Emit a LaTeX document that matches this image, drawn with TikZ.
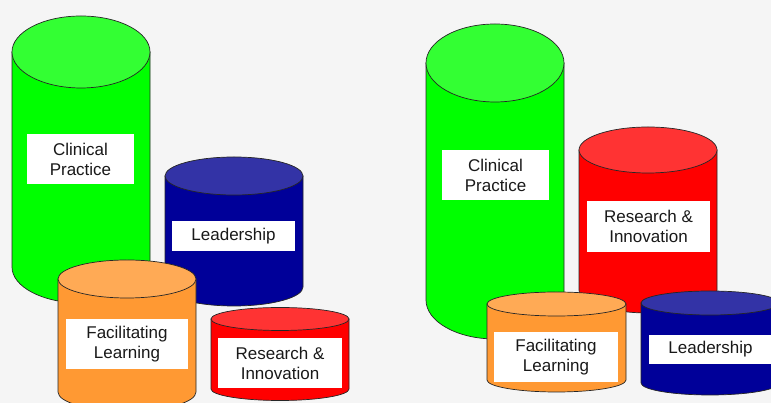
\documentclass[tikz,border=0pt]{standalone}
\usepackage{fontspec}
\setmainfont{Liberation Sans}

\definecolor{bgGray}{HTML}{F5F5F5}
\definecolor{greenBody}{HTML}{00FF00}
\definecolor{greenTop}{HTML}{33FF33}
\definecolor{blueBody}{HTML}{000099}
\definecolor{blueTop}{HTML}{3333A6}
\definecolor{redBody}{HTML}{FF0000}
\definecolor{redTop}{HTML}{FF3333}
\definecolor{orangeBody}{HTML}{FF9933}
\definecolor{orangeTop}{HTML}{FFAA55}

% drum: centre x, top y, bottom y, x radius, y radius, body colour, top colour
\newcommand{\drum}[7]{%
  \filldraw[rim, fill=#6] (#1-#4,#2) -- (#1-#4,#3)
    arc[start angle=180, end angle=360, x radius=#4, y radius=#5] -- (#1+#4,#2) -- cycle;
  \filldraw[rim, fill=#7] (#1,#2) ellipse[x radius=#4, y radius=#5];
}

\begin{document}
\begin{tikzpicture}[x=1pt, y=1pt,
    rim/.style = {draw=black!85, line width=0.7pt},
    lbl/.style = {fill=white, inner sep=0pt, align=center, text=black!90,
                  font=\fontsize{17}{20}\selectfont}]
  \clip (0,0) rectangle (771,403);
  \fill[bgGray] (0,0) rectangle (771,403);

  % left group
  \drum{81}{351}{136}{69}{36}{greenBody}{greenTop}
  \node[lbl, minimum width=107, minimum height=50] (cpL) at (80.5,244) {Clinical\\Practice};
  \drum{234}{227}{116}{69}{19}{blueBody}{blueTop}
  \node[lbl, minimum width=123, minimum height=30] (ldL) at (233.5,167) {Leadership};
  \drum{127}{124}{11}{69}{19}{orangeBody}{orangeTop}
  \node[lbl, minimum width=122, minimum height=50] (flL) at (127,59) {Facilitating\\Learning};
  \drum{280}{84}{14}{69}{11.5}{redBody}{redTop}
  \node[lbl, minimum width=124, minimum height=50] (riL) at (280,40) {Research \&\\Innovation};

  % right group
  \drum{495}{340}{103}{69}{39}{greenBody}{greenTop}
  \node[lbl, minimum width=107, minimum height=50] (cpR) at (495.5,228) {Clinical\\Practice};
  \drum{648}{253}{113}{69}{23}{redBody}{redTop}
  \node[lbl, minimum width=123, minimum height=51] (riR) at (648.5,176.5) {Research \&\\Innovation};
  \drum{556.5}{99}{23}{69.5}{12}{orangeBody}{orangeTop}
  \node[lbl, minimum width=124, minimum height=50] (flR) at (556,46) {Facilitating\\Learning};
  \drum{710}{100}{20}{69}{12}{blueBody}{blueTop}
  \node[lbl, minimum width=123, minimum height=29] (ldR) at (710.5,53.5) {Leadership};
\end{tikzpicture}
\end{document}
